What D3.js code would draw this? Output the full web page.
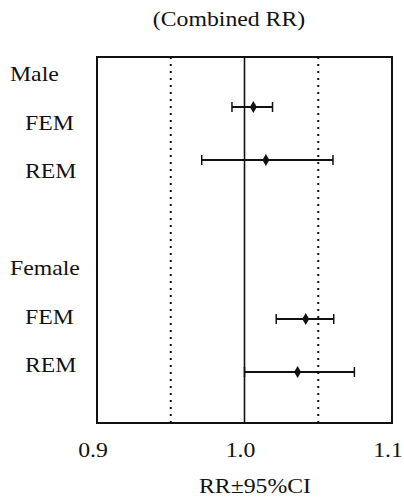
<!DOCTYPE html>
<html>
<head>
<meta charset="utf-8">
<script src="https://cdn.jsdelivr.net/npm/d3@7"></script>
<style>
  body { margin: 0; background: #fff; }
  text { font-family: "Liberation Serif", "Times New Roman", serif; fill: #111; }
</style>
</head>
<body>
<div id="viz"></div>
<script>
const width = 404;
const height = 497;
const margin = {top: 57, right: 12, bottom: 74, left: 97};
const fontSize = 22;
const stretch = 1.08; // the scanned type is a bit wider than Times

// Data
const rowLabels = ['Male', 'FEM', 'REM', 'Female', 'FEM', 'REM'];
const labelRows = [0, 1, 2, 4, 5, 6];
const isHeader = [true, false, false, true, false, false];

const estimates = [
  {row: 1, rr: 1.006, lo: 0.9915, hi: 1.019},  // Male FEM
  {row: 2, rr: 1.0145, lo: 0.971, hi: 1.060},  // Male REM
  {row: 5, rr: 1.0415, lo: 1.0215, hi: 1.0605}, // Female FEM
  {row: 6, rr: 1.036, lo: 1.000, hi: 1.0745}   // Female REM
];

const xTicks = [0.9, 1.0, 1.1];
const refLines = [0.95, 1.05];

const svg = d3.select('#viz')
  .append('svg')
    .attr('width', width)
    .attr('height', height);

const xScale = d3.scaleLinear()
  .domain([0.9, 1.1])
  .range([margin.left, width - margin.right]);

const yBar = d3.scaleLinear()
  .domain([0, 6])
  .range([54, 372]);

const yLabel = d3.scaleLinear()
  .domain([0, 6])
  .range([81, 372]);

const plotTop = margin.top;
const plotBottom = height - margin.bottom;

// helper for the slightly wide type
const addText = (sel, x, y, str, anchor) => sel.append('text')
  .attr('transform', `translate(${x},${y}) scale(${stretch},1)`)
  .attr('text-anchor', anchor)
  .style('font-size', fontSize + 'px')
  .text(str);

// Title
addText(svg, 229, 26, '(Combined RR)', 'middle');

// Reference lines
svg.append('g')
  .selectAll('line')
  .data(refLines)
  .join('line')
    .attr('x1', d => xScale(d))
    .attr('x2', d => xScale(d))
    .attr('y1', plotTop)
    .attr('y2', plotBottom)
    .attr('stroke', '#111')
    .attr('stroke-width', 2)
    .attr('stroke-dasharray', '2,5');

svg.append('line')
  .attr('x1', xScale(1))
  .attr('x2', xScale(1))
  .attr('y1', plotTop)
  .attr('y2', plotBottom)
  .attr('stroke', '#111')
  .attr('stroke-width', 1.6);

// Frame
svg.append('rect')
  .attr('x', xScale(0.9))
  .attr('y', plotTop)
  .attr('width', xScale(1.1) - xScale(0.9))
  .attr('height', plotBottom - plotTop)
  .attr('fill', 'none')
  .attr('stroke', '#111')
  .attr('stroke-width', 2);

// Error bars
const bars = svg.append('g')
  .selectAll('g')
  .data(estimates)
  .join('g')
    .attr('stroke', '#111')
    .attr('stroke-width', 2);

bars.append('line')
  .attr('x1', d => xScale(d.lo))
  .attr('x2', d => xScale(d.hi))
  .attr('y1', d => yBar(d.row))
  .attr('y2', d => yBar(d.row));

bars.selectAll('line.cap')
  .data(d => [d.lo, d.hi].map(v => ({v, row: d.row})))
  .join('line')
    .attr('class', 'cap')
    .attr('stroke-width', 1.5)
    .attr('x1', d => xScale(d.v))
    .attr('x2', d => xScale(d.v))
    .attr('y1', d => yBar(d.row) - 5)
    .attr('y2', d => yBar(d.row) + 5);

bars.append('path')
  .attr('d', d => {
    const x = xScale(d.rr), y = yBar(d.row);
    return `M${x},${y - 6}L${x + 3.5},${y}L${x},${y + 6}L${x - 3.5},${y}Z`;
  })
  .attr('fill', '#111')
  .attr('stroke', 'none');

// Row labels
rowLabels.forEach((lbl, i) => {
  addText(svg, isHeader[i] ? 10 : 25, yLabel(labelRows[i]), lbl, 'start');
});

// X tick labels
xTicks.forEach(t => {
  addText(svg, xScale(t) - 4, 457, d3.format('.1f')(t), 'middle');
});

// X axis title
addText(svg, 255, 493, 'RR±95%CI', 'middle');
</script>
</body>
</html>
